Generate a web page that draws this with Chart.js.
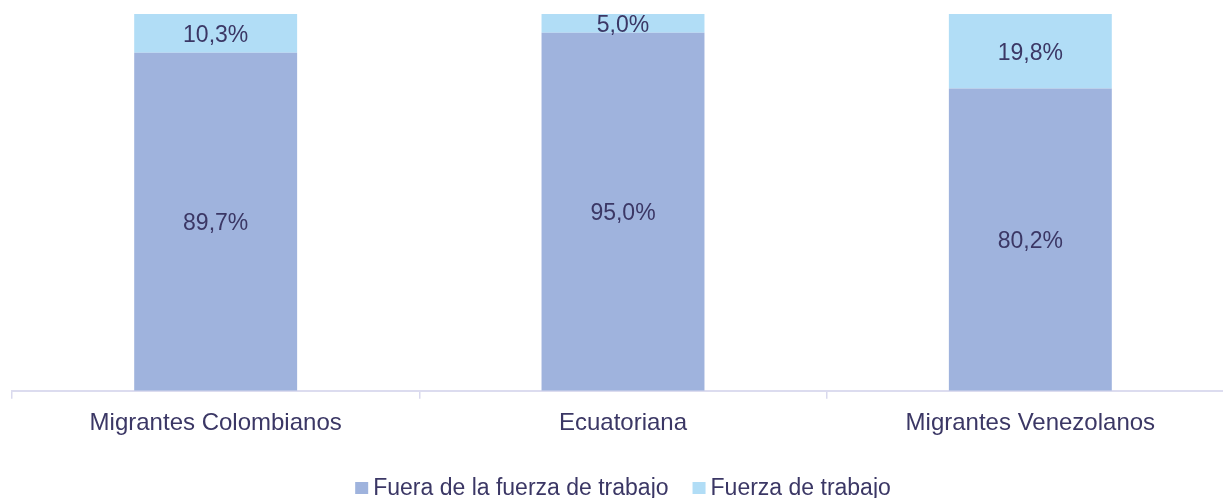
<!DOCTYPE html>
<html>
<head>
<meta charset="utf-8">
<script src="https://cdn.jsdelivr.net/npm/chart.js@4/dist/chart.umd.min.js"></script>
<style>
html,body{margin:0;padding:0;background:#fff;overflow:hidden;width:1223px;height:498px;}
#wrap{position:absolute;left:0;top:0;width:1246px;height:498px;}
</style>
</head>
<body>
<div id="wrap"><canvas id="c" width="1246" height="498"></canvas></div>
<script>
const categories = ['Migrantes Colombianos', 'Ecuatoriana', 'Migrantes Venezolanos'];
const seriesNames = ['Fuera de la fuerza de trabajo', 'Fuerza de trabajo'];
const fueraValues = [89.7, 95.0, 80.2];
const fuerzaValues = [10.3, 5.0, 19.8];

const TEXT = '#3b3765';
const FONT = "'Liberation Sans', Arial, sans-serif";
Chart.defaults.font.family = FONT;
Chart.defaults.color = TEXT;

const fmt = v => v.toFixed(1).replace('.', ',') + '%';

const labelPlugin = {
  id: 'barLabels',
  afterDatasetsDraw(chart) {
    const ctx = chart.ctx;
    ctx.save();
    ctx.font = '23px ' + FONT;
    ctx.fillStyle = TEXT;
    ctx.textAlign = 'center';
    ctx.textBaseline = 'middle';
    chart.data.datasets.forEach((ds, i) => {
      const meta = chart.getDatasetMeta(i);
      meta.data.forEach((el, j) => {
        const y = (el.y + el.base) / 2;
        ctx.fillText(fmt(ds.data[j]), el.x, y + 2);
      });
    });
    ctx.restore();
  }
};

const legendPlugin = {
  id: 'customLegend',
  afterDraw(chart) {
    const ctx = chart.ctx;
    ctx.save();
    ctx.font = '23px ' + FONT;
    const box = 13, gapBox = 5, gapItem = 24;
    const items = chart.data.datasets.map(ds => ({ text: ds.label, color: ds.backgroundColor, w: ctx.measureText(ds.label).width }));
    let total = 0;
    items.forEach((it, i) => { total += box + gapBox + it.w + (i < items.length - 1 ? gapItem : 0); });
    const ca = chart.chartArea;
    let x = (ca.left + ca.right) / 2 - total / 2;
    const baseY = 495;
    ctx.textBaseline = 'alphabetic';
    ctx.textAlign = 'left';
    items.forEach(it => {
      ctx.fillStyle = it.color;
      ctx.fillRect(x, baseY - 13, box, 12);
      x += box + gapBox;
      ctx.fillStyle = TEXT;
      ctx.fillText(it.text, x, baseY);
      x += it.w + gapItem;
    });
    ctx.restore();
  }
};

new Chart(document.getElementById('c'), {
  type: 'bar',
  data: {
    labels: categories,
    datasets: [
      { label: seriesNames[0], data: fueraValues, backgroundColor: '#9fb3dd', borderWidth: 0 },
      { label: seriesNames[1], data: fuerzaValues, backgroundColor: '#b1ddf6', borderWidth: 0 }
    ]
  },
  options: {
    responsive: false,
    animation: false,
    devicePixelRatio: 1,
    layout: { padding: { left: 12, right: 12, top: 14, bottom: 50.4 } },
    datasets: { bar: { categoryPercentage: 1, barPercentage: 0.4 } },
    plugins: { legend: { display: false }, tooltip: { enabled: false } },
    scales: {
      x: {
        stacked: true,
        grid: { display: true, drawOnChartArea: false, drawTicks: true, tickLength: 8, color: '#d9d9ee', lineWidth: 1.5, offset: true },
        border: { display: true, color: '#dcdcef', width: 2 },
        ticks: { font: { size: 24 }, color: TEXT, padding: 10, maxRotation: 0 }
      },
      y: { stacked: true, display: false, min: 0, max: 100 }
    }
  },
  plugins: [labelPlugin, legendPlugin]
});
</script>
</body>
</html>
